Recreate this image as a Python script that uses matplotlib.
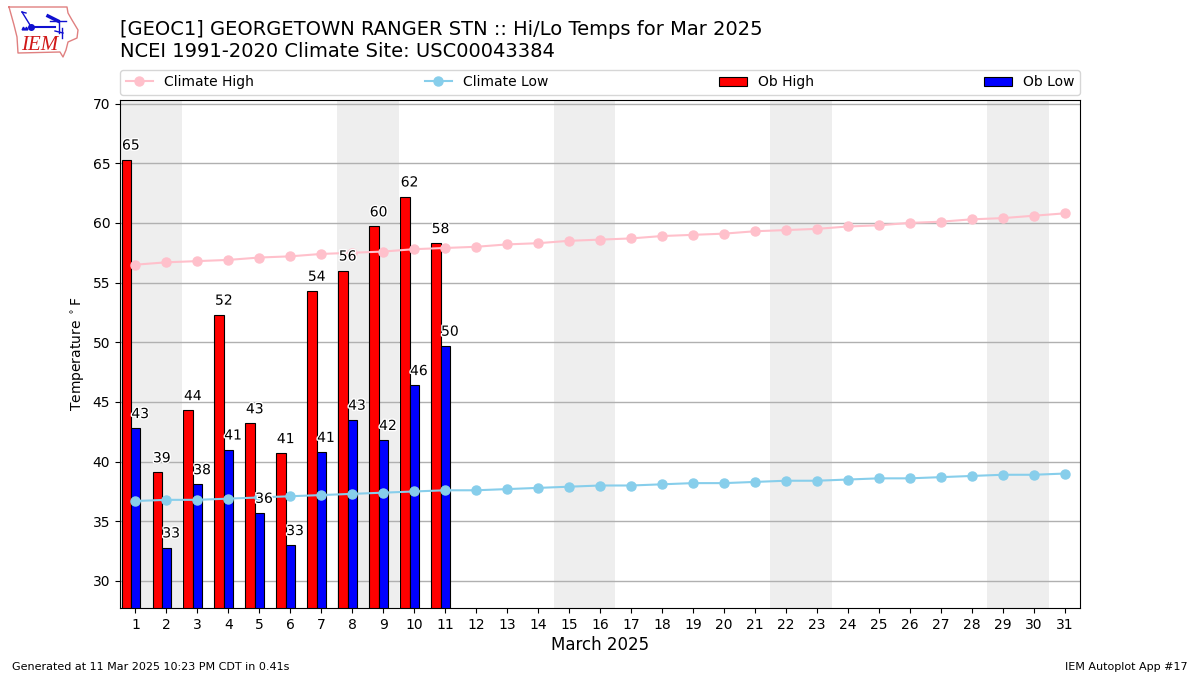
import numpy as np
import matplotlib
matplotlib.use("Agg")
import matplotlib.pyplot as plt
import matplotlib.patheffects as PathEffects

days = list(range(1, 32))
ob_high = [65.3, 39.1, 44.3, 52.3, 43.2, 40.7, 54.3, 56.0, 59.7, 62.2, 58.3]
ob_low = [42.8, 32.8, 38.1, 41.0, 35.7, 33.0, 40.8, 43.5, 41.8, 46.4, 49.7]
clim_high = [56.5, 56.7, 56.8, 56.9, 57.1, 57.2, 57.4, 57.5, 57.6, 57.8, 57.9,
             58.0, 58.2, 58.3, 58.5, 58.6, 58.7, 58.9, 59.0, 59.1, 59.3, 59.4,
             59.5, 59.7, 59.8, 60.0, 60.1, 60.3, 60.4, 60.6, 60.8]
clim_low = [36.7, 36.8, 36.8, 36.9, 37.0, 37.1, 37.2, 37.3, 37.4, 37.5, 37.6,
            37.6, 37.7, 37.8, 37.9, 38.0, 38.0, 38.1, 38.2, 38.2, 38.3, 38.4,
            38.4, 38.5, 38.6, 38.6, 38.7, 38.8, 38.9, 38.9, 39.0]
high_labels = [65, 39, 44, 52, 43, 41, 54, 56, 60, 62, 58]
low_labels = [43, 33, 38, 41, 36, 33, 41, 43, 42, 46, 50]
weekends = [1, 8, 15, 22, 29]

fig = plt.figure(figsize=(12, 6.75), dpi=100)
ax = fig.add_axes([0.1, 0.0993, 0.8, 0.7526])

for start in weekends:
    ax.axvspan(start - 0.5, start + 1.5, color="#eeeeee", lw=0, zorder=0)

ax.grid(True, axis="y", color="#b0b0b0", lw=1, zorder=1)
ax.set_axisbelow(True)

x = np.array(days[:len(ob_high)])
ax.plot(days, clim_high, color="pink", marker="o", ms=6.5, lw=1.5, label="Climate High", zorder=4)
ax.plot(days, clim_low, color="skyblue", marker="o", ms=6.5, lw=1.5, label="Climate Low", zorder=4)
ax.bar(x - 0.15, ob_high, width=-0.3, align="edge", color="r", edgecolor="k", lw=0.8, label="Ob High", zorder=2)
ax.bar(x - 0.15, ob_low, width=0.3, align="edge", color="b", edgecolor="k", lw=0.8, label="Ob Low", zorder=2)

for i, d in enumerate(x):
    for xpos, val, lab in ((d - 0.15, ob_high[i], high_labels[i]), (d + 0.15, ob_low[i], low_labels[i])):
        t = ax.text(xpos, val + 0.6, str(lab), ha="center", va="bottom", fontsize=10, zorder=5)
        t.set_path_effects([PathEffects.withStroke(linewidth=2, foreground="white")])

ax.set_xlim(0.5, 31.5)
ax.set_ylim(27.74, 70.3)
ax.set_xticks(days)
ax.set_yticks(range(30, 71, 5))
ax.set_xlabel("March 2025", fontsize=12, labelpad=3)
ax.set_ylabel(r"Temperature $^\circ$F")

ax.legend(loc="lower left", bbox_to_anchor=(0, 1.01, 1, 0.05), mode="expand", ncol=4,
          borderaxespad=0, fontsize=10)

fig.text(0.1, 0.9415, "[GEOC1] GEORGETOWN RANGER STN :: Hi/Lo Temps for Mar 2025", fontsize=14, va="bottom")
fig.text(0.1, 0.91, "NCEI 1991-2020 Climate Site: USC00043384", fontsize=14, va="bottom")
fig.text(0.01, 0.008, "Generated at 11 Mar 2025 10:23 PM CDT in 0.41s", fontsize=8)
fig.text(0.99, 0.008, "IEM Autoplot App #17", fontsize=8, ha="right")

# logo, drawn in pixel coordinates of its own small axes
logo = fig.add_axes([0, 0.91, 0.075, 0.09])
logo.set_xlim(0, 90)
logo.set_ylim(60.75, 0)
logo.axis("off")
iowa_x = [9, 67, 68, 72, 78, 77, 68, 66, 63, 60, 18, 17, 14, 9]
iowa_y = [7, 7, 13, 20, 30, 38, 42, 50, 57, 52, 53, 37, 25, 7]
logo.plot(iowa_x, iowa_y, color="#e08080", lw=1)
logo.plot([31, 55], [27, 27], color="#1010d0", lw=1.5)
logo.plot([31], [27], "o", color="#1010d0", ms=4)
logo.plot([48, 58], [16, 21], color="#1010d0", lw=2.5)
logo.plot([50, 66], [21, 21], color="#1010d0", lw=1)
logo.plot([59, 59], [21, 33], color="#1010d0", lw=1)
logo.plot([62, 62], [28, 38], color="#1010d0", lw=1)
logo.plot([55, 63], [31, 33], color="#1010d0", lw=1)
logo.plot([22, 30], [12, 25], color="#1010d0", lw=1)
logo.plot([22, 26], [12, 13], color="#1010d0", lw=1)
logo.plot([23, 26], [28, 28], "^", color="#1010d0", ms=2)
logo.text(21, 46, "IEM", color="#d01818", fontsize=15, family="Liberation Serif", style="italic", va="center")

fig.savefig("out.png", dpi=100)
